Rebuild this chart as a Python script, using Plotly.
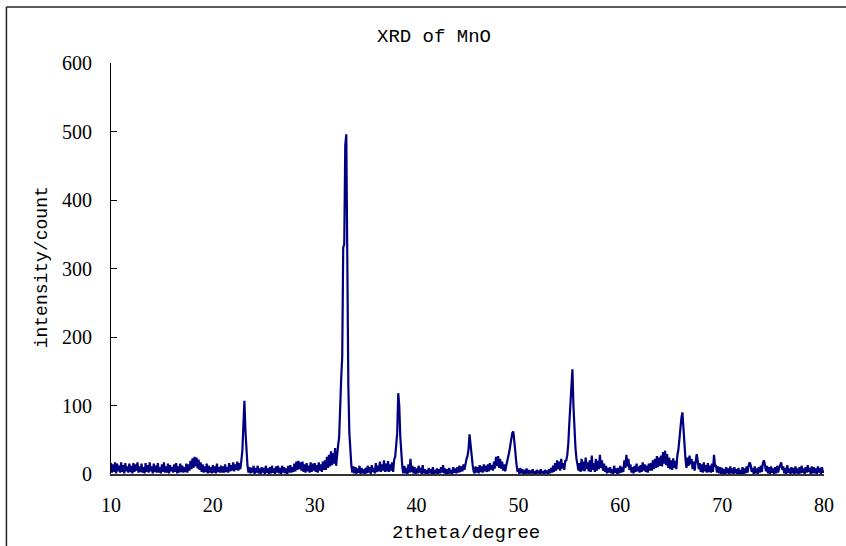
import numpy as np
import plotly.graph_objects as go

# 2theta sampling (0.1 degree step, 10..80)
two_theta_start = 10.0
two_theta_step = 0.1

# Intensity values, one row per degree (x.0 .. x.9)
i10 = [16, 2, 14, 3, 17, 1, 15, 4, 12, 2]
i11 = [17, 3, 13, 1, 16, 4, 11, 2, 15, 3]
i12 = [12, 1, 16, 3, 14, 5, 17, 2, 11, 3]
i13 = [15, 2, 10, 1, 16, 3, 13, 2, 17, 4]
i14 = [11, 1, 15, 3, 12, 2, 16, 2, 10, 1]
i15 = [14, 3, 17, 2, 11, 2, 15, 1, 13, 4]
i16 = [10, 2, 14, 3, 16, 1, 11, 2, 15, 3]
i17 = [12, 2, 10, 3, 15, 2, 14, 5, 19, 7]
i18 = [23, 9, 25, 11, 24, 8, 21, 6, 17, 3]
i19 = [14, 2, 11, 3, 15, 1, 12, 2, 10, 1]
i20 = [13, 2, 11, 1, 15, 3, 10, 2, 12, 2]
i21 = [11, 2, 14, 3, 10, 2, 16, 4, 13, 5]
i22 = [17, 4, 14, 6, 18, 5, 16, 7, 20, 35]
i23 = [72, 107, 62, 30, 12, 2, 10, 1, 9, 2]
i24 = [12, 0, 9, 2, 12, 1, 8, 0, 10, 2]
i25 = [9, 0, 12, 2, 8, 0, 10, 1, 12, 2]
i26 = [8, 0, 11, 2, 12, 1, 9, 0, 12, 2]
i27 = [10, 1, 8, 0, 12, 2, 13, 2, 10, 3]
i28 = [15, 4, 18, 6, 19, 7, 17, 5, 18, 3]
i29 = [14, 2, 16, 4, 12, 2, 17, 3, 15, 5]
i30 = [16, 3, 13, 2, 17, 5, 14, 3, 18, 6]
i31 = [20, 6, 25, 9, 28, 11, 33, 13, 30, 15]
i32 = [38, 12, 35, 42, 54, 110, 140, 171, 331, 335]
i33 = [480, 496, 300, 130, 60, 30, 12, 2, 11, 1]
i34 = [10, 0, 8, 2, 12, 0, 9, 1, 7, 0]
i35 = [9, 1, 12, 2, 10, 0, 13, 3, 9, 1]
i36 = [16, 3, 12, 4, 18, 3, 14, 5, 20, 3]
i37 = [15, 4, 19, 3, 14, 5, 17, 3, 21, 25]
i38 = [40, 60, 118, 100, 55, 22, 10, 1, 12, 1]
i39 = [9, 0, 14, 2, 22, 3, 12, 1, 10, 0]
i40 = [8, 1, 12, 2, 9, 0, 13, 1, 7, 0]
i41 = [6, 0, 9, 1, 7, 0, 10, 0, 6, 1]
i42 = [8, 0, 7, 1, 10, 2, 13, 1, 8, 0]
i43 = [7, 0, 9, 1, 6, 0, 10, 2, 8, 1]
i44 = [10, 2, 12, 3, 11, 4, 14, 6, 17, 22]
i45 = [26, 36, 58, 40, 28, 14, 4, 1, 11, 2]
i46 = [10, 1, 13, 3, 11, 2, 14, 4, 12, 3]
i47 = [14, 4, 16, 6, 13, 5, 18, 8, 25, 12]
i48 = [26, 9, 22, 8, 18, 5, 14, 4, 12, 18]
i49 = [22, 32, 42, 54, 60, 62, 50, 32, 15, 5]
i50 = [6, 0, 9, 1, 7, 0, 6, 0, 8, 1]
i51 = [6, 0, 5, 1, 7, 0, 4, 0, 6, 1]
i52 = [5, 0, 7, 1, 4, 0, 6, 1, 5, 0]
i53 = [7, 1, 9, 2, 12, 3, 16, 5, 20, 7]
i54 = [18, 5, 22, 8, 16, 6, 19, 20, 28, 45]
i55 = [75, 105, 140, 153, 100, 65, 38, 22, 15, 5]
i56 = [16, 3, 22, 5, 18, 4, 24, 7, 17, 4]
i57 = [20, 3, 27, 6, 16, 3, 22, 5, 19, 7]
i58 = [28, 9, 20, 5, 15, 3, 12, 1, 9, 2]
i59 = [10, 1, 7, 0, 12, 2, 8, 0, 9, 1]
i60 = [12, 2, 10, 3, 20, 9, 28, 11, 22, 6]
i61 = [14, 2, 10, 1, 12, 3, 15, 4, 11, 2]
i62 = [13, 3, 17, 5, 14, 3, 12, 2, 15, 5]
i63 = [16, 5, 20, 7, 22, 9, 26, 10, 24, 12]
i64 = [27, 11, 32, 15, 34, 13, 29, 9, 24, 7]
i65 = [20, 6, 23, 9, 19, 7, 27, 35, 50, 72]
i66 = [82, 90, 60, 32, 22, 9, 24, 12, 27, 14]
i67 = [22, 7, 18, 5, 15, 29, 20, 7, 16, 3]
i68 = [14, 2, 17, 4, 13, 2, 16, 3, 12, 2]
i69 = [15, 3, 28, 12, 12, 2, 11, 1, 10, 0]
i70 = [9, 0, 7, 0, 10, 1, 8, 0, 11, 1]
i71 = [8, 0, 10, 1, 7, 0, 9, 0, 6, 0]
i72 = [10, 0, 8, 1, 11, 2, 12, 17, 13, 3]
i73 = [9, 0, 11, 1, 8, 0, 10, 2, 12, 3]
i74 = [16, 20, 14, 4, 12, 1, 10, 0, 11, 2]
i75 = [8, 0, 10, 1, 12, 2, 9, 13, 17, 6]
i76 = [11, 1, 9, 0, 13, 2, 8, 0, 10, 1]
i77 = [9, 0, 11, 1, 8, 0, 10, 1, 12, 2]
i78 = [8, 0, 10, 2, 13, 3, 9, 0, 11, 1]
i79 = [10, 1, 8, 0, 11, 2, 9, 0, 10, 3]
i80 = [3]

x_ticks = [10, 20, 30, 40, 50, 60, 70, 80]
y_ticks = [0, 100, 200, 300, 400, 500, 600]

rows = [i10, i11, i12, i13, i14, i15, i16, i17, i18, i19, i20, i21, i22, i23,
        i24, i25, i26, i27, i28, i29, i30, i31, i32, i33, i34, i35, i36, i37,
        i38, i39, i40, i41, i42, i43, i44, i45, i46, i47, i48, i49, i50, i51,
        i52, i53, i54, i55, i56, i57, i58, i59, i60, i61, i62, i63, i64, i65,
        i66, i67, i68, i69, i70, i71, i72, i73, i74, i75, i76, i77, i78, i79, i80]
intensity = [v for r in rows for v in r]
two_theta = np.round(two_theta_start + two_theta_step * np.arange(len(intensity)), 2)

fig = go.Figure()
fig.add_trace(go.Scatter(x=two_theta, y=intensity, mode="lines",
                         line=dict(color="#000080", width=2.2), showlegend=False))

W, H = 846, 546
L, R, T, B = 111, 19, 63, 72
pw, ph = W - L - R, H - T - B

def px(xp):
    return (xp - L) / pw

def py(yp):
    return (H - B - yp) / ph

mono = "Liberation Mono"
serif = "Liberation Serif"

fig.update_layout(
    width=W, height=H,
    margin=dict(l=L, r=R, t=T, b=B, pad=0),
    paper_bgcolor="white", plot_bgcolor="white",
    xaxis=dict(range=[10, 80], tickvals=x_ticks, ticks="", showgrid=False,
               zeroline=False, showline=True, linecolor="#333333", linewidth=1.5,
               tickfont=dict(family=serif, size=20, color="black"),
               ticklabelstandoff=12),
    yaxis=dict(range=[0, 600], tickvals=y_ticks, ticks="inside", ticklen=6,
               tickcolor="black", tickwidth=1, showgrid=False, zeroline=False,
               showline=True, linecolor="black", linewidth=1,
               tickfont=dict(family=serif, size=20, color="black"),
               ticklabelstandoff=14),
    annotations=[
        dict(text="XRD of MnO", x=px(435), y=py(37), xref="paper", yref="paper",
             xanchor="center", yanchor="middle", showarrow=False,
             font=dict(family=mono, size=19, color="black")),
        dict(text="2theta/degree", x=px(467), y=py(533), xref="paper", yref="paper",
             xanchor="center", yanchor="middle", showarrow=False,
             font=dict(family=mono, size=19, color="black")),
        dict(text="intensity/count", x=px(42), y=py(267), xref="paper", yref="paper",
             xanchor="center", yanchor="middle", showarrow=False, textangle=-90,
             font=dict(family=mono, size=18, color="black")),
    ],
    shapes=[
        dict(type="line", xref="paper", yref="paper", x0=px(6), x1=px(850),
             y0=py(7), y1=py(7), line=dict(color="#222222", width=1.5)),
        dict(type="line", xref="paper", yref="paper", x0=px(6), x1=px(6),
             y0=py(7), y1=py(550), line=dict(color="#222222", width=1.5)),
    ],
)

fig.write_html("out.html", config={"displayModeBar": False},
               post_script="document.body.style.margin='0';document.body.style.overflow='hidden';")
